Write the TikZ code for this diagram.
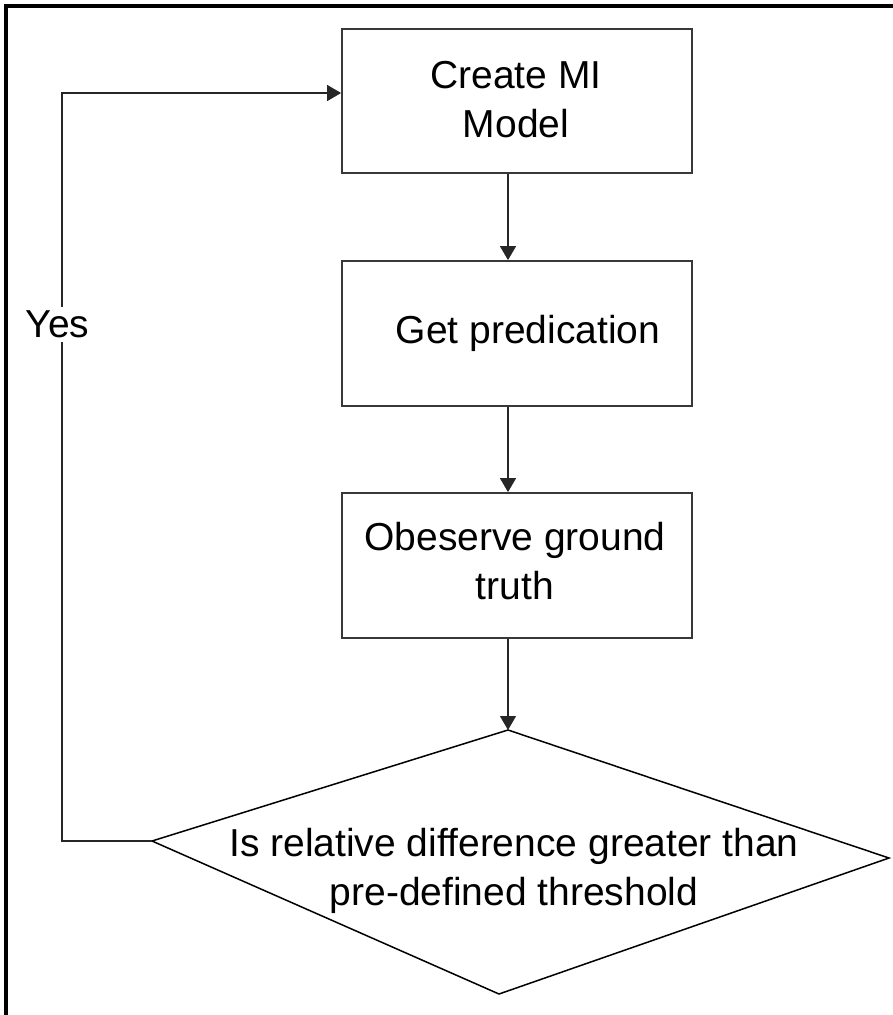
\documentclass[tikz,border=0pt]{standalone}
\usepackage{fontspec}
\setmainfont{Liberation Sans}
\usetikzlibrary{arrows.meta}
\tikzset{
  stepbox/.style={draw=black!78, line width=1.8pt, minimum width=350pt, inner sep=0pt},
  label text/.style={font=\fontsize{39}{49}\selectfont, align=center, inner sep=0pt},
  flow/.style={draw=black!85, line width=1.4pt, -{Triangle[length=14pt,width=16pt]}},
}
\begin{document}
\begin{tikzpicture}[x=1pt,y=-1pt]
\useasboundingbox (0,0) rectangle (893,1015);
% frame (top and left edges visible)
\draw[line width=3.2pt] (6,1015) -- (6,6) -- (893,6);

% boxes
\node[stepbox, minimum height=144pt] (b1) at (517,101) {};
\node[stepbox, minimum height=145pt] (b2) at (517,333.5) {};
\node[stepbox, minimum height=145pt] (b3) at (517,565.5) {};

% decision (irregular diamond)
\coordinate (dL) at (152,841);
\coordinate (dT) at (508,730);
\coordinate (dR) at (889,858);
\coordinate (dB) at (499,994);
\draw[line width=1.5pt] (dL) -- (dT) -- (dR) -- (dB) -- cycle;

% texts
\node[label text] (t1) at (516,99.5) {Create MI\\Model};
\node[label text] (t2) at (528,333) {Get predication};
\node[label text] (t3) at (515,561) {Obeserve ground\\truth};
\node[label text] (t4) at (514,871) {Is relative difference greater than\\pre-defined threshold};

% connectors
\draw[flow] (b1.south -| dT) -- (b2.north -| dT);
\draw[flow] (b2.south -| dT) -- (b3.north -| dT);
\draw[flow] (b3.south -| dT) -- (dT);

\coordinate (fb) at (62,93);
\draw[flow] (dL) -| (fb) -- (b1.west |- fb);
\node[label text, fill=white, inner sep=4pt] (yes) at (57.5,324.5) {Yes};
\end{tikzpicture}
\end{document}
